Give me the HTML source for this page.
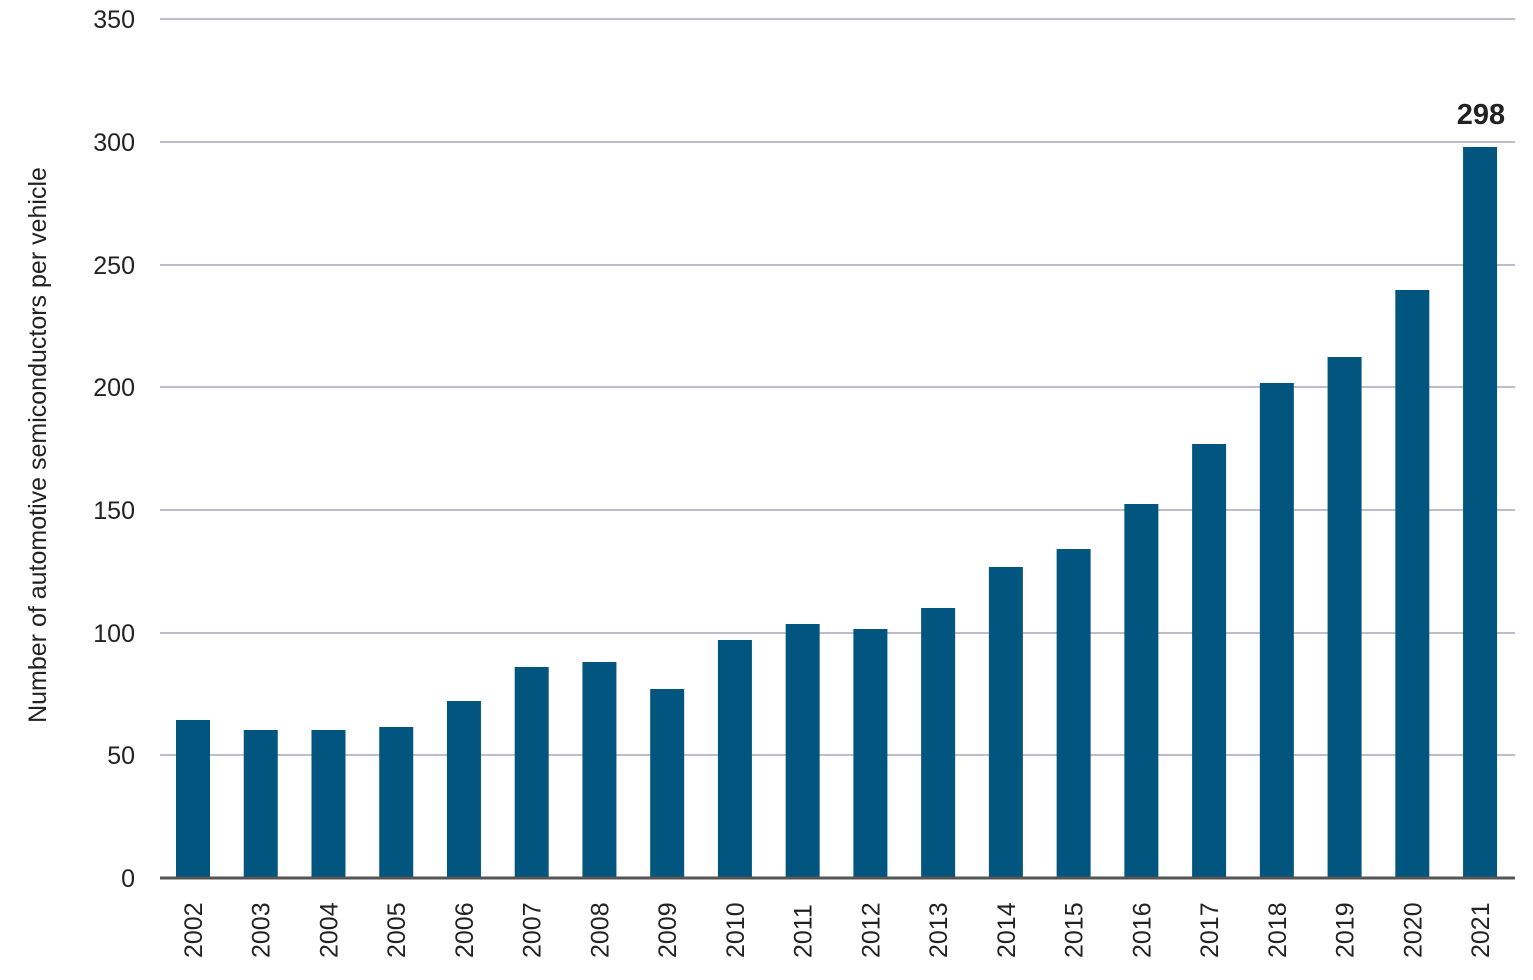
<!DOCTYPE html>
<html><head><style>
html,body{margin:0;padding:0;background:#fff;}
svg{display:block;}
text{font-family:"Liberation Sans Narrow","Liberation Sans",sans-serif;fill:#222;}
</style></head><body>
<svg width="1533" height="980" viewBox="0 0 1533 980">
<g stroke="#a9a9b8" stroke-width="1.5">
<line x1="160" y1="19" x2="1515" y2="19"/>
<line x1="160" y1="142" x2="1515" y2="142"/>
<line x1="160" y1="265" x2="1515" y2="265"/>
<line x1="160" y1="387" x2="1515" y2="387"/>
<line x1="160" y1="510" x2="1515" y2="510"/>
<line x1="160" y1="633" x2="1515" y2="633"/>
<line x1="160" y1="755" x2="1515" y2="755"/>
</g>
<g font-size="25" text-anchor="end">
<text x="135" y="28">350</text>
<text x="135" y="151">300</text>
<text x="135" y="274">250</text>
<text x="135" y="396">200</text>
<text x="135" y="519">150</text>
<text x="135" y="642">100</text>
<text x="135" y="764">50</text>
<text x="135" y="887">0</text>
</g>
<text transform="translate(46,445) rotate(-90)" font-size="25" text-anchor="middle">Number of automotive semiconductors per vehicle</text>
<g fill="#02557e" id="bars"></g>
<line x1="160" y1="878" x2="1515" y2="878" stroke="#555" stroke-width="3"/>
<g id="xl" font-size="25"></g>
<text x="1481" y="124" font-size="29" font-weight="bold" text-anchor="middle" fill="#111">298</text>
</svg>
<script>
var tops=[720,730,730,727,701,667,662,689,640,624,629,608,567,549,504,444,383,357,290,147];
var b=document.getElementById('bars'),x=document.getElementById('xl'),ns='http://www.w3.org/2000/svg';
for(var i=0;i<20;i++){var cx=193+i*67.74;
var r=document.createElementNS(ns,'rect');r.setAttribute('x',cx-17);r.setAttribute('y',tops[i]);r.setAttribute('width',34);r.setAttribute('height',878-tops[i]);b.appendChild(r);
var t=document.createElementNS(ns,'text');t.setAttribute('transform','translate('+(cx+9)+',958) rotate(-90)');t.textContent=2002+i;x.appendChild(t);}
</script>
</body></html>
